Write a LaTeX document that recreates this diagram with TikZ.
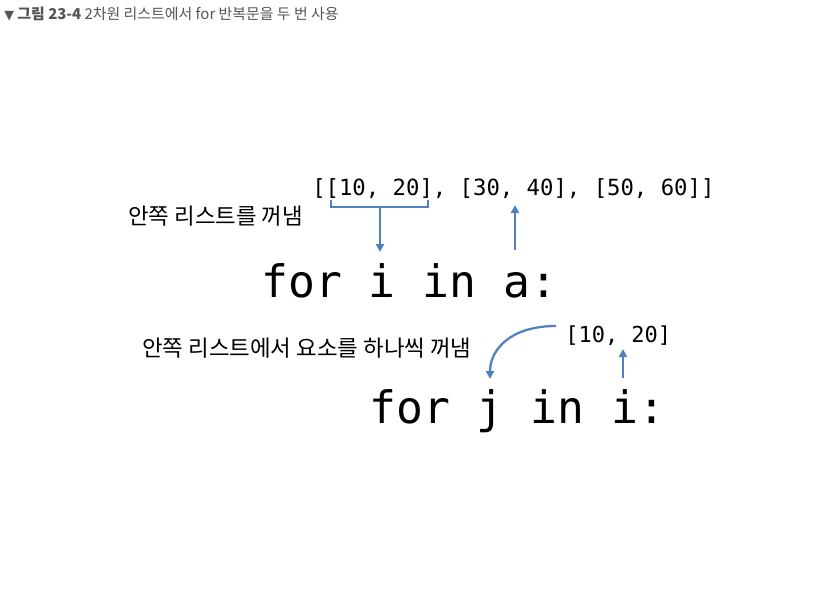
\documentclass[tikz,border=0pt]{standalone}
\usepackage{fontspec}
\setmainfont{Noto Sans CJK KR}
\newfontfamily\symfont{DejaVu Sans}
\setmonofont{DejaVu Sans Mono}
\usetikzlibrary{arrows.meta}
\definecolor{arrowblue}{HTML}{4F81BD}
\definecolor{headgray}{HTML}{555555}
\tikzset{
  conn/.style={draw=arrowblue, line width=1.7pt, -{Triangle[length=6pt,width=6pt]}},
  brack/.style={draw=arrowblue, line width=1.7pt},
  code/.style={inner sep=0pt, anchor=base west, font=\ttfamily},
  label/.style={inner sep=0pt, anchor=base west},
}
\begin{document}
\begin{tikzpicture}[x=0.75pt,y=-0.75pt]
\useasboundingbox (0,0) rectangle (830,611);
% header
\node[label, text=headgray, font=\fontsize{11.2}{13}\selectfont] (hdr) at (4,19)
  {{\symfont\fontsize{9.5}{12}\selectfont ▼} \textbf{그림 23-4} 2차원 리스트에서 for 반복문을 두 번 사용};
% top list
\node[code, font=\ttfamily\fontsize{16.7}{20}\selectfont] (lst) at (312,195) {[[10, 20], [30, 40], [50, 60]]};
\node[label, font=\fontsize{16.8}{20}\selectfont] (lab1) at (128,224) {안쪽 리스트를 꺼냄};
\node[code, font=\ttfamily\fontsize{33.5}{40}\selectfont] (for1) at (261,297) {for i in a:};
% bracket and arrows
\coordinate (bl) at (331,200);
\coordinate (br) at (428,200);
\coordinate (bm) at (380,207);
\coordinate (i1) at (380,252);
\coordinate (a1) at (515,250);
\coordinate (l30) at (515,205);
\draw[brack] (bl) -- (331,207) -- (428,207) -- (br);
\draw[conn] (bm) -- (i1);
\draw[conn] (a1) -- (l30);
% second
\node[code, font=\ttfamily\fontsize{16.5}{20}\selectfont] (sub) at (565,342) {[10, 20]};
\node[label, font=\fontsize{16.8}{20}\selectfont] (lab2) at (142,356) {안쪽 리스트에서 요소를 하나씩 꺼냄};
\node[code, font=\ttfamily\fontsize{33.5}{40}\selectfont] (for2) at (369,423) {for j in i:};
\coordinate (cs) at (556,326);
\coordinate (ce) at (490,379);
\coordinate (i2s) at (623,378);
\coordinate (i2e) at (623,349);
\draw[conn] (cs) .. controls (510,326) and (490,350) .. (ce);
\draw[conn] (i2s) -- (i2e);
\end{tikzpicture}
\end{document}
